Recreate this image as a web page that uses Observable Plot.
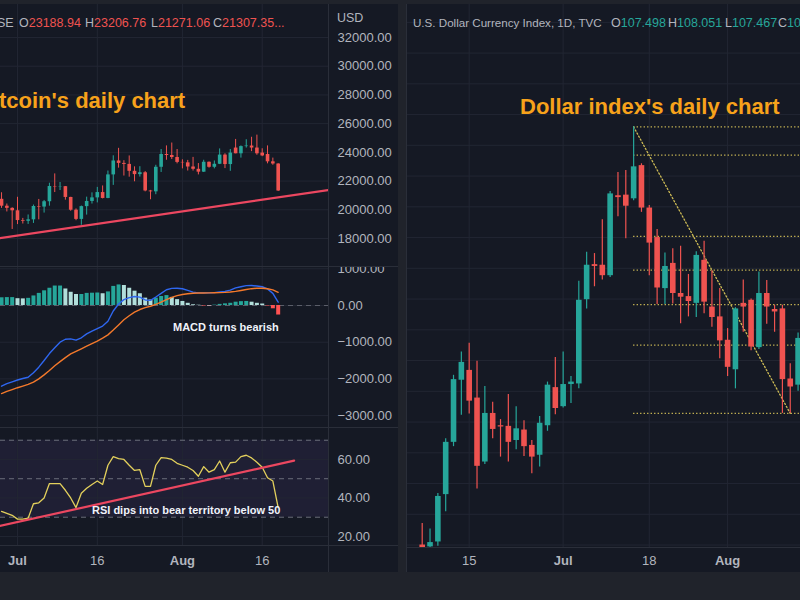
<!DOCTYPE html>
<html><head><meta charset="utf-8">
<script src="https://cdn.jsdelivr.net/npm/d3@7"></script>
<script src="https://cdn.jsdelivr.net/npm/@observablehq/plot@0.6"></script>
<style>
html,body{margin:0;padding:0;background:#20232b;}
#root{position:relative;width:800px;height:600px;overflow:hidden;background:#20232b;font-family:"Liberation Sans",Arial,sans-serif;}
.panel{position:absolute;background:#151924;}
.abs{position:absolute;white-space:nowrap;line-height:1;}
.sep{position:absolute;background:#2a2e39;}
.hdr{font-size:12.5px;color:#b2b5be;}
.hdrn{font-size:11.6px;color:#b2b5be;}
.dn{color:#ef5350;}
.up{color:#26a69a;}
.title{font-size:22px;font-weight:bold;color:#f7a21b;}
.note{font-size:11px;font-weight:bold;color:#f0f3fa;}
.plot{position:absolute;}
</style></head>
<body><div id="root"></div>
<script>
// ---------------- Bitcoin daily (left) ----------------
const btcDates = ["2022-06-28","2022-06-29","2022-06-30","2022-07-01","2022-07-02","2022-07-03","2022-07-04","2022-07-05","2022-07-06","2022-07-07","2022-07-08","2022-07-09","2022-07-10","2022-07-11","2022-07-12","2022-07-13","2022-07-14","2022-07-15","2022-07-16","2022-07-17","2022-07-18","2022-07-19","2022-07-20","2022-07-21","2022-07-22","2022-07-23","2022-07-24","2022-07-25","2022-07-26","2022-07-27","2022-07-28","2022-07-29","2022-07-30","2022-07-31","2022-08-01","2022-08-02","2022-08-03","2022-08-04","2022-08-05","2022-08-06","2022-08-07","2022-08-08","2022-08-09","2022-08-10","2022-08-11","2022-08-12","2022-08-13","2022-08-14","2022-08-15","2022-08-16","2022-08-17","2022-08-18","2022-08-19"];
const btcOpen  = [20730,20250,20100,19930,19250,19200,19300,20230,20190,20560,21620,21590,21610,20860,19970,19330,20220,20580,20830,21200,20790,22430,23400,23230,23160,22680,22450,22580,21310,21250,22960,23850,23780,23640,23300,23270,22980,22820,22620,23310,22960,23170,23810,23150,24300,23900,24400,24440,24300,23950,23850,23340,23188.94];
const btcHigh  = [21185,20400,20140,20870,19400,19640,20330,20720,20650,21850,22500,21900,21620,20870,20060,20260,20880,21180,21560,21660,22700,23760,24280,23420,23750,22990,23000,22660,21350,23100,24200,24450,24650,24200,23480,23440,23650,23220,23450,23330,23400,24240,23900,24200,24900,24450,24880,25050,25200,24250,24450,23600,23206.76];
const btcLow   = [20100,19850,18630,18970,19010,18980,19050,19300,19770,20250,21200,21340,20670,19900,19240,18920,19630,20400,20480,20760,20770,21700,22900,22350,22270,21950,22280,21250,20700,21050,22600,23450,23500,23200,22850,22700,22700,22430,22600,22900,22850,23150,22870,22680,23900,23600,24300,24050,23800,23700,23200,23100,21271.06];
const btcClose = [20250,20100,19930,19250,19200,19300,20230,20190,20560,21620,21590,21610,20860,19970,19330,20220,20580,20830,21200,20790,22430,23400,23230,23160,22680,22450,22580,21310,21250,22960,23850,23780,23640,23300,23270,22980,22820,22620,23310,22960,23170,23810,23150,23950,23900,24400,24440,24300,23900,23750,23340,23190,21307.35];
const macdLine   = [-2200,-2130,-2080,-2030,-1990,-1955,-1830,-1680,-1500,-1310,-1150,-1000,-920,-910,-945,-880,-775,-700,-630,-560,-430,-150,40,160,215,245,228,150,140,230,330,430,465,468,455,410,365,345,345,345,350,370,385,420,480,510,540,545,530,510,450,330,90];
const macdSignal = [-2400,-2340,-2290,-2240,-2195,-2150,-2090,-2000,-1890,-1770,-1640,-1530,-1420,-1320,-1250,-1180,-1110,-1040,-970,-890,-800,-670,-530,-390,-280,-180,-110,-60,-20,30,90,160,220,270,300,320,335,340,342,344,346,350,356,368,385,410,435,458,470,468,455,425,360];
const macdHist   = [210,215,215,185,180,195,260,330,400,470,530,530,450,360,300,300,330,335,340,320,370,520,560,545,470,390,320,200,150,200,245,270,220,160,110,60,20,8,-15,-15,10,30,45,60,90,105,110,90,60,40,-15,-90,-260];
const rsiValues  = [33,32,31,29,29,29.5,37,37.5,40,47.5,47.5,47.5,44,40,35,42.5,45,47,48.8,47,57,61.5,60.5,60,57,54.3,54.7,46,46,57,61,60.7,60,58,57,56,54.3,51.3,56.3,53.4,54.7,59.2,53.4,58.3,58.6,61.5,62.2,60.8,58.6,56,50.5,48.8,35];
const priceTicks = [18000,20000,22000,24000,26000,28000,30000,32000];
const macdTicks  = [1000,0,-1000,-2000,-3000];
const rsiTicks   = [20,40,60];
const rsiLevels  = [70,50,30];
const rsiBand    = [30,70];
const btcTickDates  = ["2022-07-01","2022-07-16","2022-08-01","2022-08-16"];
const btcTickLabels = ["Jul","16","Aug","16"];
const priceTrendDates  = ["2022-06-27","2022-08-29"];
const priceTrendValues = [17986,21408];
const rsiTrendDates    = ["2022-06-27","2022-08-22"];
const rsiTrendValues   = [25.0,59.4];

// ---------------- U.S. Dollar Index daily (right) ----------------
const dxyDates = ["2022-06-07","2022-06-08","2022-06-09","2022-06-10","2022-06-13","2022-06-14","2022-06-15","2022-06-16","2022-06-17","2022-06-20","2022-06-21","2022-06-22","2022-06-23","2022-06-24","2022-06-27","2022-06-28","2022-06-29","2022-06-30","2022-07-01","2022-07-04","2022-07-05","2022-07-06","2022-07-07","2022-07-08","2022-07-11","2022-07-12","2022-07-13","2022-07-14","2022-07-15","2022-07-18","2022-07-19","2022-07-20","2022-07-21","2022-07-22","2022-07-25","2022-07-26","2022-07-27","2022-07-28","2022-07-29","2022-08-01","2022-08-02","2022-08-03","2022-08-04","2022-08-05","2022-08-08","2022-08-09","2022-08-10","2022-08-11","2022-08-12"];
const dxyOpen  = [102.50,102.47,102.55,103.32,104.17,105.18,105.34,104.89,103.85,104.64,104.44,104.43,104.20,104.37,104.12,103.96,104.44,105.06,104.75,105.11,105.12,106.49,107.06,107.05,106.88,108.18,108.19,108.13,108.67,107.98,107.50,106.67,107.08,106.59,106.54,106.43,107.13,106.37,106.21,105.83,105.35,106.43,106.48,105.71,106.59,106.33,106.34,105.20,105.10];
const dxyHigh  = [102.85,102.76,103.34,104.23,105.26,105.64,105.78,105.49,105.08,104.82,104.54,104.95,104.75,104.52,104.20,104.59,105.15,105.55,105.64,105.24,106.79,107.26,107.24,107.79,108.25,108.56,108.59,109.30,108.70,108.02,107.63,107.25,107.32,107.36,106.90,107.27,107.44,106.96,106.67,106.02,106.36,106.81,106.50,106.94,106.80,106.40,106.40,105.45,105.95];
const dxyLow   = [102.35,102.40,102.48,103.04,104.10,104.61,104.63,103.41,103.81,104.23,103.93,103.85,104.05,103.94,103.66,103.77,104.35,104.62,104.73,104.80,105.04,106.34,106.70,106.81,106.85,107.84,107.48,108.10,107.91,106.88,106.41,106.41,106.42,106.10,106.21,106.20,106.26,106.04,105.53,105.24,105.04,105.96,105.66,105.68,106.09,105.96,104.64,104.64,105.00];
const dxyClose = [102.45,102.54,103.29,104.17,105.19,105.47,104.84,103.78,104.64,104.38,104.42,104.17,104.39,104.10,103.93,104.48,105.10,104.72,105.11,105.15,106.48,107.05,107.03,106.88,108.21,108.15,108.01,108.65,107.98,107.41,106.68,107.03,106.59,106.53,106.46,107.21,106.45,106.20,105.82,105.39,106.34,106.37,105.72,106.59,106.37,106.29,105.19,105.07,105.86];
const dxyGridTicks = [102.5,103,103.5,104,104.5,105,105.5,106,106.5,107,107.5,108,108.5,109,109.5,110,110.5,111];
const dxyTickDates  = ["2022-06-15","2022-07-01","2022-07-18","2022-08-01"];
const dxyTickLabels = ["15","Jul","18","Aug"];
const fibLevels = [109.30,108.84,107.52,106.97,106.41,105.75,104.64];
const fibStartDate = "2022-07-14";
const fibDiagDates  = ["2022-07-14","2022-08-11"];
const fibDiagValues = [109.30,104.64];

// ---------------- styles ----------------
const UP = "#26a69a", DOWN = "#ef5350";
const GRID = "#222633", AXIS = "#b2b5be", FONT = "Liberation Sans, Arial, sans-serif";
const DOT = "#cdbb55";
const baseStyle = {background: "transparent", color: AXIS, fontFamily: FONT, fontSize: "13px", overflow: "hidden"};

const root = document.getElementById("root");
function box(cls, x, y, w, h) { const d = document.createElement("div"); d.className = cls; Object.assign(d.style, {left: x+"px", top: y+"px", width: w+"px", height: h+"px"}); root.appendChild(d); return d; }
function text(html, cls, x, y) { const d = document.createElement("div"); d.className = "abs " + cls; d.style.left = x+"px"; d.style.top = y+"px"; d.innerHTML = html; root.appendChild(d); return d; }
function place(svg, x, y) { svg.classList.add("plot"); svg.style.position = "absolute"; svg.style.left = x+"px"; svg.style.top = y+"px"; root.appendChild(svg); }

box("panel", 0, 4, 398, 568);
box("panel", 406, 4, 394, 568);

const btc = btcDates.map((d, i) => ({date: new Date(d), open: btcOpen[i], high: btcHigh[i], low: btcLow[i], close: btcClose[i],
  macd: macdLine[i], signal: macdSignal[i], hist: macdHist[i], rsi: rsiValues[i]}));
const candleColor = d => d.close >= d.open ? UP : DOWN;
const histColor = (d, i) => { const prev = i > 0 ? macdHist[i-1] : d.hist; return d.hist >= 0 ? (d.hist >= prev ? UP : "#b2dfdb") : (d.hist < prev ? "#ff5252" : "#ffcdd2"); };
btc.forEach((d, i) => d.hcol = histColor(d, i));
const xDom = [new Date("2022-06-27T19:19Z"), new Date("2022-08-28T11:02Z")];
const btcTicks = btcTickDates.map(d => new Date(d));
const btcLabel = new Map(btcTicks.map((d, i) => [+d, btcTickLabels[i]]));
const monthTicks = btcTicks.filter(d => isNaN(+btcLabel.get(+d)));
const dayTicks = btcTicks.filter(d => !isNaN(+btcLabel.get(+d)));
const fmt2 = d3.format(".2f");
const priceTrend = priceTrendDates.map((d, i) => ({date: new Date(d), v: priceTrendValues[i]}));
const rsiTrend = rsiTrendDates.map((d, i) => ({date: new Date(d), v: rsiTrendValues[i]}));

// price pane
place(Plot.plot({
  width: 398, height: 262, marginLeft: 0, marginRight: 70, marginTop: 0, marginBottom: 0,
  style: baseStyle,
  x: {type: "utc", domain: xDom, axis: null},
  y: {domain: [16050, 34298], axis: null},
  marks: [
    Plot.gridX(btcTicks, {stroke: GRID, strokeOpacity: 1}),
    Plot.gridY(priceTicks, {stroke: GRID, strokeOpacity: 1}),
    Plot.ruleX(btc, {x: "date", y1: "low", y2: "high", stroke: candleColor, strokeWidth: 1, clip: true}),
    Plot.ruleX(btc, {x: "date", y1: "open", y2: "close", stroke: candleColor, strokeWidth: 3.6, clip: true}),
    Plot.line(priceTrend, {x: "date", y: "v", stroke: "#ec4760", strokeWidth: 2.2, clip: true}),
    Plot.axisY(priceTicks, {anchor: "right", tickSize: 0, tickPadding: 9, tickFormat: fmt2, fontSize: 13})
  ]
}), 0, 4);

// MACD pane
place(Plot.plot({
  width: 398, height: 160, marginLeft: 0, marginRight: 70, marginTop: 0, marginBottom: 0,
  style: baseStyle,
  x: {type: "utc", domain: xDom, axis: null},
  y: {domain: [-3324, 1035], axis: null},
  marks: [
    Plot.gridX(btcTicks, {stroke: GRID, strokeOpacity: 1}),
    Plot.gridY(macdTicks, {stroke: GRID, strokeOpacity: 1}),
    Plot.ruleY([0], {stroke: "#5d606b", strokeDasharray: "5,4", strokeWidth: 1}),
    Plot.ruleX(btc, {x: "date", y1: 0, y2: "hist", stroke: "hcol", strokeWidth: 4, clip: true}),
    Plot.line(btc, {x: "date", y: "macd", stroke: "#2f67f0", strokeWidth: 1.4, clip: true}),
    Plot.line(btc, {x: "date", y: "signal", stroke: "#f4792b", strokeWidth: 1.4, clip: true}),
    Plot.axisY(macdTicks, {anchor: "right", tickSize: 0, tickPadding: 9, tickFormat: fmt2, fontSize: 13})
  ]
}), 0, 267);

// RSI pane + time axis
place(Plot.plot({
  width: 398, height: 144, marginLeft: 0, marginRight: 70, marginTop: 0, marginBottom: 27,
  style: baseStyle,
  x: {type: "utc", domain: xDom, axis: null},
  y: {domain: [15.3, 76.1], axis: null},
  marks: [
    Plot.rectY([rsiBand], {x1: xDom[0], x2: xDom[1], y1: d => d[0], y2: d => d[1], fill: "#7e57c2", fillOpacity: 0.1}),
    Plot.gridX(btcTicks, {stroke: GRID, strokeOpacity: 1}),
    Plot.gridY(rsiTicks, {stroke: GRID, strokeOpacity: 1}),
    Plot.ruleY(rsiLevels, {stroke: "#6b6e7a", strokeDasharray: "5,4", strokeWidth: 1}),
    Plot.line(btc, {x: "date", y: "rsi", stroke: "#e3d05c", strokeWidth: 1.3, clip: true}),
    Plot.line(rsiTrend, {x: "date", y: "v", stroke: "#ec4760", strokeWidth: 2.2, clip: true}),
    Plot.axisY(rsiTicks, {anchor: "right", tickSize: 0, tickPadding: 9, tickFormat: fmt2, fontSize: 13}),
    Plot.axisX(monthTicks, {anchor: "bottom", tickSize: 0, tickPadding: 10, tickFormat: d => btcLabel.get(+d), fontSize: 13, fontWeight: "bold"}),
    Plot.axisX(dayTicks, {anchor: "bottom", tickSize: 0, tickPadding: 10, tickFormat: d => btcLabel.get(+d), fontSize: 13})
  ]
}), 0, 428);

// DXY pane
const dxy = dxyDates.map((d, i) => ({i, date: d, open: dxyOpen[i], high: dxyHigh[i], low: dxyLow[i], close: dxyClose[i]}));
const idx = d => dxyDates.indexOf(d);
const dxyTicks = dxyTickDates.map(idx);
const dxyLabel = new Map(dxyTicks.map((t, k) => [t, dxyTickLabels[k]]));
const dxyMonth = dxyTicks.filter(t => isNaN(+dxyLabel.get(t)));
const dxyDay = dxyTicks.filter(t => !isNaN(+dxyLabel.get(t)));
const fibStart = idx(fibStartDate);
const fibDiag = fibDiagDates.map((d, k) => ({x: idx(d), v: fibDiagValues[k]}));
place(Plot.plot({
  width: 394, height: 568, marginLeft: 0, marginRight: 0, marginTop: 0, marginBottom: 25,
  style: baseStyle,
  x: {type: "linear", domain: [-2.005, 48.31], axis: null},
  y: {domain: [102.46, 111.29], axis: null},
  marks: [
    Plot.gridX(dxyTicks, {stroke: GRID, strokeOpacity: 1}),
    Plot.gridY(dxyGridTicks, {stroke: GRID, strokeOpacity: 1}),
    Plot.ruleY(fibLevels, {x1: fibStart, x2: dxyDates.length + 2, stroke: DOT, strokeWidth: 1.3, strokeDasharray: "1.3,2.2", clip: true}),
    Plot.line(fibDiag, {x: "x", y: "v", stroke: DOT, strokeWidth: 1.3, strokeDasharray: "1.3,2.2", clip: true}),
    Plot.ruleX(dxy, {x: "i", y1: "low", y2: "high", stroke: candleColor, strokeWidth: 1.2, clip: true}),
    Plot.ruleX(dxy, {x: "i", y1: "open", y2: "close", stroke: candleColor, strokeWidth: 5.6, clip: true}),
    Plot.axisX(dxyMonth, {anchor: "bottom", tickSize: 0, tickPadding: 8, tickFormat: t => dxyLabel.get(t), fontSize: 13, fontWeight: "bold"}),
    Plot.axisX(dxyDay, {anchor: "bottom", tickSize: 0, tickPadding: 8, tickFormat: t => dxyLabel.get(t), fontSize: 13})
  ]
}), 406, 4);

// separators
box("sep", 328, 4, 1, 568);
box("sep", 0, 266, 398, 1);
box("sep", 0, 427, 398, 1);
box("sep", 0, 545, 398, 1);
box("sep", 406, 547, 394, 1);
box("sep", 406, 4, 1, 568);

// headers and texts
text('SE', "hdr", -3, 16.7);
text('O<span class="dn">23188.94</span>', "hdr", 19, 16.7);
text('H<span class="dn">23206.76</span>', "hdr", 85, 16.7);
text('L<span class="dn">21271.06</span>', "hdr", 151, 16.7);
text('C<span class="dn">21307.35...</span>', "hdr", 213, 16.7);
text('USD', "hdr", 337, 12);
text('U.S. Dollar Currency Index, 1D, TVC', "hdrn", 413, 17);
text('O<span class="up">107.498</span>', "hdr", 611, 16.7);
text('H<span class="up">108.051</span>', "hdr", 668, 16.7);
text('L<span class="up">107.467</span>', "hdr", 725, 16.7);
text('C<span class="up">10</span>', "hdr", 778, 16.7);
text("tcoin's daily chart", "title", -1, 89.7);
text("Dollar index's daily chart", "title", 520, 95.7);
text("MACD turns bearish", "note", 173, 321.7);
text("RSI dips into bear territory below 50", "note", 92, 504.7);
</script></body></html>
